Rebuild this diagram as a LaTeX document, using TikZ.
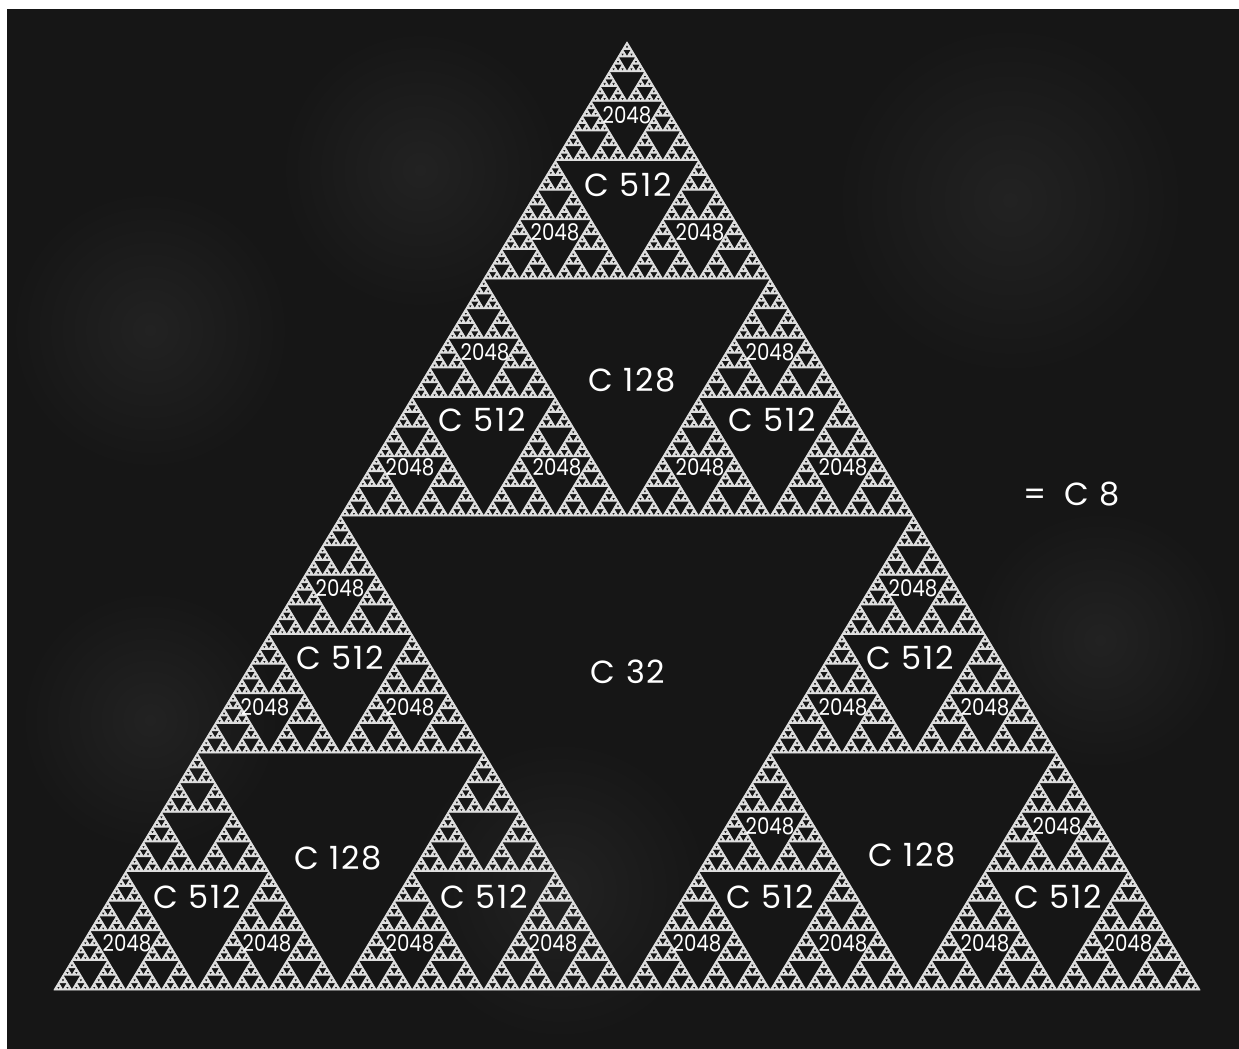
\documentclass[tikz,border=0pt]{standalone}
\usepackage{fontspec}
\setmainfont{Poppins}
\newfontfamily\lblfont[LetterSpace=6]{Poppins}
\definecolor{bgdark}{HTML}{161616}
\definecolor{bgcloud}{HTML}{222222}
\definecolor{sier}{HTML}{DEDEDE}

\makeatletter
% Sierpinski recursion: #1 = size (leaves along a side), #2,#3 = apex (half-leaf widths, leaf heights)
\def\sgPt#1#2{\pgfqpoint{\dimexpr627pt+2.23828pt*(#1)\relax}{\dimexpr-42pt-3.703125pt*(#2)\relax}}
\def\sgTri#1#2#3{%
  \ifnum#1=1 \expandafter\sgLeaf\else\expandafter\sgSplit\fi{#1}{#2}{#3}}
\def\sgLeaf#1#2#3{%
  \pgfpathmoveto{\sgPt{#2}{#3}}%
  \pgfpathlineto{\sgPt{#2-1}{#3+1}}%
  \pgfpathlineto{\sgPt{#2+1}{#3+1}}%
  \pgfpathclose}
\def\sgSplit#1#2#3{%
  \edef\sg@tmp{%
    \noexpand\sgTri{\the\numexpr#1/2\relax}{#2}{#3}%
    \noexpand\sgTri{\the\numexpr#1/2\relax}{\the\numexpr#2-#1/2\relax}{\the\numexpr#3+#1/2\relax}%
    \noexpand\sgTri{\the\numexpr#1/2\relax}{\the\numexpr#2+#1/2\relax}{\the\numexpr#3+#1/2\relax}}%
  \sg@tmp}
\makeatother

\tikzset{
  biglbl/.style={text=white, inner sep=0pt, font=\lblfont\fontsize{32}{32}\selectfont},
  smalllbl/.style={text=white, inner sep=0pt, xscale=0.86, font=\fontsize{23}{23}\selectfont},
  cloud/.style={inner color=bgcloud, outer color=bgdark},
}

\begin{document}
\begin{tikzpicture}[x=1pt,y=-1pt]
  \useasboundingbox (0,0) rectangle (1239,1049);
  % page and background
  \fill[white] (0,0) rectangle (1239,1049);
  \fill[bgdark] (7,9) rectangle (1239,1049);
  % soft cloudy patches (kept inside the dark area, not overlapping)
  \shade[cloud] (150,330) circle (140);
  \shade[cloud] (420,170) circle (140);
  \shade[cloud] (1010,200) circle (175);
  \shade[cloud] (1100,640) circle (130);
  \shade[cloud] (560,890) circle (150);
  \shade[cloud] (150,720) circle (130);

  % Sierpinski gasket
  \begin{pgfscope}
    \pgfsetfillcolor{sier}
    \pgfsetstrokecolor{sier}
    \pgfsetlinewidth{0.9pt}
    \pgfsetroundjoin
    \sgTri{256}{0}{0}
    \pgfusepath{fill,stroke}
  \end{pgfscope}

  % level-0 hole and equation
  \node[biglbl] (c32) at (628,672) {C 32};
  \node[biglbl] (c8) at (1072,494) {=\;\;C 8};

  % level-1 holes
  \node[biglbl] (c128t) at (632,380) {C 128};
  \node[biglbl] (c128l) at (338,858) {C 128};
  \node[biglbl] (c128r) at (912,855) {C 128};

  % level-2 holes
  \node[biglbl] (c512a) at (628,185) {C 512};
  \node[biglbl] (c512b) at (482,420) {C 512};
  \node[biglbl] (c512c) at (772,420) {C 512};
  \node[biglbl] (c512d) at (340,658) {C 512};
  \node[biglbl] (c512e) at (910,658) {C 512};
  \node[biglbl] (c512f) at (197,897) {C 512};
  \node[biglbl] (c512g) at (484,897) {C 512};
  \node[biglbl] (c512h) at (770,897) {C 512};
  \node[biglbl] (c512i) at (1058,897) {C 512};

  % level-3 holes
  \node[smalllbl] (s1) at (627,115) {2048};
  \node[smalllbl] (s2) at (555,232) {2048};
  \node[smalllbl] (s3) at (700,232) {2048};
  \node[smalllbl] (s4) at (485,352) {2048};
  \node[smalllbl] (s5) at (770,352) {2048};
  \node[smalllbl] (s6) at (410,467) {2048};
  \node[smalllbl] (s7) at (557,467) {2048};
  \node[smalllbl] (s8) at (700,467) {2048};
  \node[smalllbl] (s9) at (843,467) {2048};
  \node[smalllbl] (s10) at (340,588) {2048};
  \node[smalllbl] (s11) at (913,588) {2048};
  \node[smalllbl] (s12) at (265,707) {2048};
  \node[smalllbl] (s13) at (410,707) {2048};
  \node[smalllbl] (s14) at (843,707) {2048};
  \node[smalllbl] (s15) at (985,707) {2048};
  \node[smalllbl] (s16) at (770,826) {2048};
  \node[smalllbl] (s17) at (1057,826) {2048};
  \node[smalllbl] (s18) at (127,943) {2048};
  \node[smalllbl] (s19) at (267,943) {2048};
  \node[smalllbl] (s20) at (410,943) {2048};
  \node[smalllbl] (s21) at (553,943) {2048};
  \node[smalllbl] (s22) at (697,943) {2048};
  \node[smalllbl] (s23) at (843,943) {2048};
  \node[smalllbl] (s24) at (985,943) {2048};
  \node[smalllbl] (s25) at (1128,943) {2048};
\end{tikzpicture}
\end{document}
